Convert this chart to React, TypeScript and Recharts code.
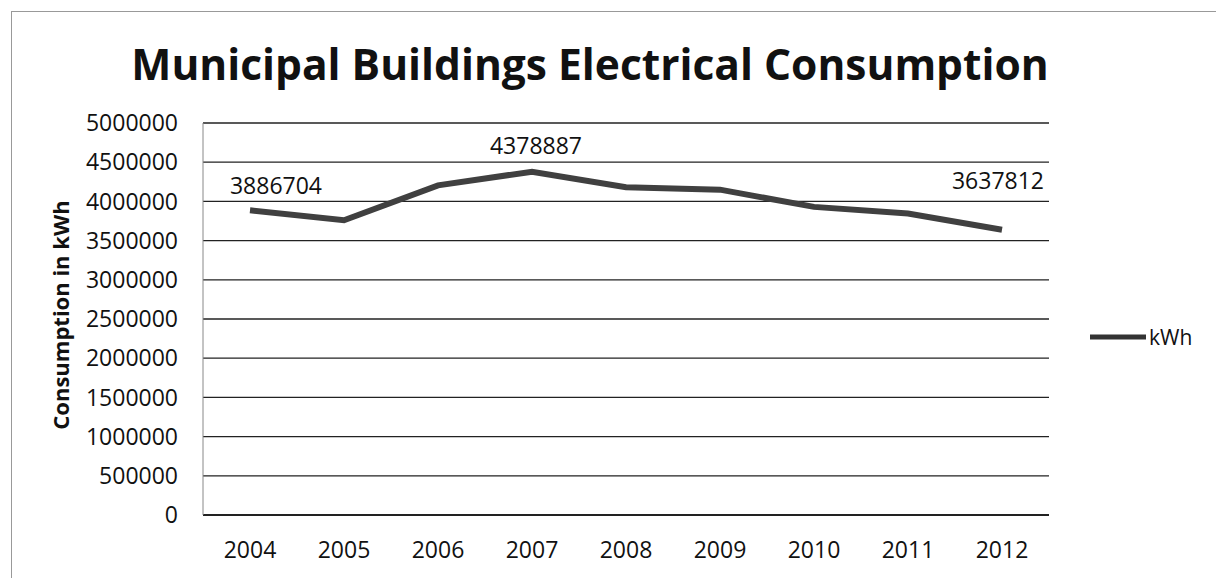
import React from 'react';
import { LineChart, Line, XAxis, YAxis, CartesianGrid, LabelList, Legend } from 'recharts';

// consumption per year (labelled points are exact)
const years = ['2004', '2005', '2006', '2007', '2008', '2009', '2010', '2011', '2012'];
const kwh = [3886704, 3760000, 4205000, 4378887, 4180000, 4150000, 3930000, 3845000, 3637812];
const yTicks = [0, 500000, 1000000, 1500000, 2000000, 2500000, 3000000, 3500000, 4000000, 4500000, 5000000];
const labelledYears = ['2004', '2007', '2012'];

const data = years.map((year, i) => ({ year, kWh: kwh[i] }));

const FONT = '"Open Sans", sans-serif';

// label nudges (dx, dy from the point)
const labelNudge: Record<string, [number, number]> = {
    '2004': [26, -25],
    '2007': [4, -27],
    '2012': [-4, -50],
};

const PointLabel = (props: any) => {
    const { x, y, index } = props;
    const year = years[index];
    if (!labelledYears.includes(year)) return null;
    const [dx, dy] = labelNudge[year] || [0, -25];
    return (
        <text x={x + dx} y={y + dy} textAnchor="middle" dominantBaseline="central"
            fontFamily={FONT} fontSize={23} fill="#111">
            {kwh[index]}
        </text>
    );
};

const AxisTitle = (props: any) => {
    const { viewBox } = props;
    const cx = 60;
    const cy = viewBox.y + viewBox.height / 2 - 4;
    return (
        <text x={cx} y={cy} transform={`rotate(-90 ${cx} ${cy})`} textAnchor="middle"
            dominantBaseline="central" fontFamily={FONT} fontSize={22} fontWeight="bold" fill="#111">
            Consumption in kWh
        </text>
    );
};

const LegendBox = () => (
    <div style={{ display: 'flex', alignItems: 'center', fontFamily: FONT, fontSize: 21, color: '#111' }}>
        <svg width={56} height={10} style={{ marginRight: 3 }}>
            <line x1={0} y1={5} x2={56} y2={5} stroke="#333" strokeWidth={5} />
        </svg>
        <span>kWh</span>
    </div>
);

export default function App() {
    return (
        <div style={{ position: 'absolute', left: 0, top: 0, width: 1216, height: 578, overflow: 'hidden', background: '#fff' }}>
            <div style={{ position: 'absolute', left: 11, top: 11, width: 1300, height: 700, borderLeft: '1px solid #999', borderTop: '1px solid #999' }} />
            <div style={{
                position: 'absolute', left: 0, top: 36, width: 1180, textAlign: 'center',
                fontFamily: FONT, fontWeight: 'bold', fontSize: 42.5, color: '#111', lineHeight: '56px',
            }}>
                Municipal Buildings Electrical Consumption
            </div>
            <div style={{ position: 'absolute', left: 0, top: 0 }}>
                <LineChart width={1216} height={578} data={data}
                    margin={{ top: 123, right: 167, bottom: 23, left: 53 }}>
                    <CartesianGrid vertical={false} stroke="#222" strokeWidth={1.3} />
                    <XAxis dataKey="year" height={40} tickLine={false} tickSize={0} tickMargin={27}
                        padding={{ left: 47, right: 47 }}
                        axisLine={{ stroke: '#111', strokeWidth: 1.5 }}
                        tick={{ fontFamily: FONT, fontSize: 23, fill: '#111' }} />
                    <YAxis width={150} domain={[0, 5000000]} ticks={yTicks} interval={0}
                        tickLine={false} tickSize={0} tickMargin={25}
                        axisLine={{ stroke: '#888', strokeWidth: 1 }}
                        tick={{ fontFamily: FONT, fontSize: 23, fill: '#111' }}
                        label={<AxisTitle />} />
                    <Legend layout="vertical" align="center" verticalAlign="middle"
                        content={<LegendBox />}
                        wrapperStyle={{ left: 1090, top: 323, width: 120 }} />
                    <Line type="linear" dataKey="kWh" name="kWh" stroke="#404040" strokeWidth={6}
                        dot={false} isAnimationActive={false}>
                        <LabelList dataKey="kWh" content={<PointLabel />} />
                    </Line>
                </LineChart>
            </div>
        </div>
    );
}
